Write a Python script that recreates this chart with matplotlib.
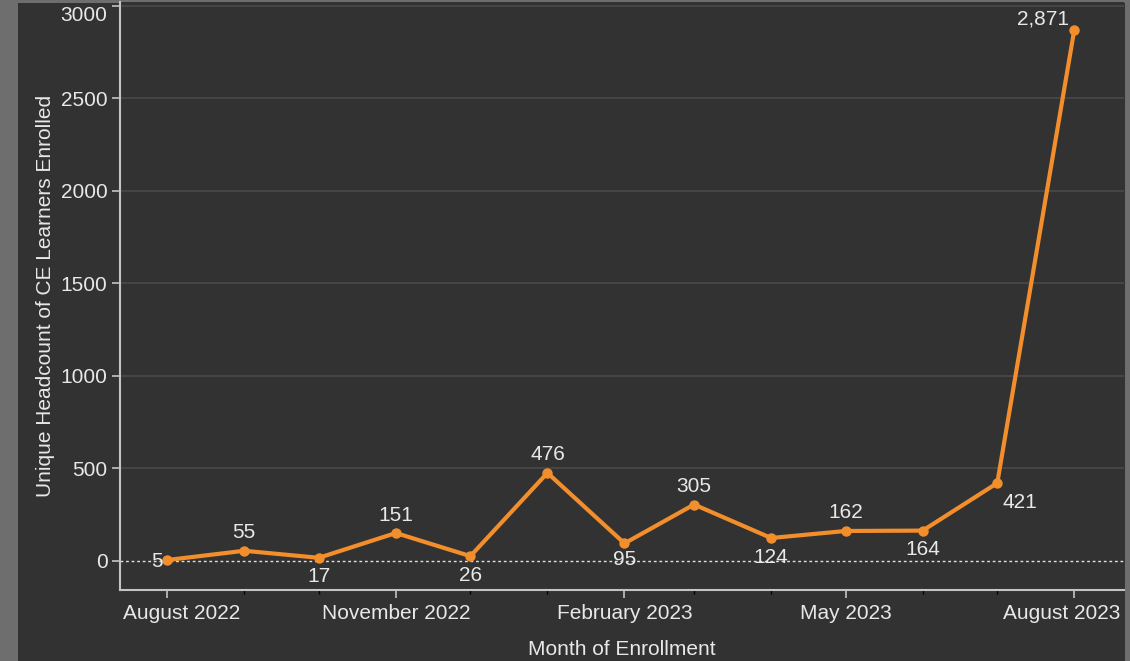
import matplotlib
matplotlib.use("Agg")
import matplotlib.pyplot as plt
import matplotlib.dates as mdates
import matplotlib.transforms as mtransforms
import datetime as dt

months = ["2022-08", "2022-09", "2022-10", "2022-11", "2022-12", "2023-01",
          "2023-02", "2023-03", "2023-04", "2023-05", "2023-06", "2023-07", "2023-08"]
values = [5, 55, 17, 151, 26, 476, 95, 305, 124, 162, 164, 421, 2871]
value_labels = ["5", "55", "17", "151", "26", "476", "95", "305", "124", "162", "164", "421", "2,871"]
# label placement: offsets in pixels (dx, dy), horizontal alignment
label_pos = [(-4, -1, "right"), (0, 18, "center"), (0, -19, "center"), (0, 18, "center"),
             (0, -19, "center"), (0, 18, "center"), (0, -16, "center"), (0, 18, "center"),
             (0, -19, "center"), (0, 18, "center"), (0, -19, "center"), (23, -19, "center"),
             (-5, 11, "right")]
y_ticks = [0, 500, 1000, 1500, 2000, 2500, 3000]
x_label = "Month of Enrollment"
y_label = "Unique Headcount of CE Learners Enrolled"

dates = [dt.datetime.strptime(m, "%Y-%m") for m in months]

plt.rcParams['font.family'] = ['Liberation Sans', 'DejaVu Sans']

BG = "#323232"
TXT = "#e8e8e8"
ORANGE = "#f28e2b"
BORDER = "#6e6e6e"
FS = 15

W, H = 1130, 661
fig = plt.figure(figsize=(W / 100, H / 100), dpi=100)
fig.patch.set_facecolor(BORDER)
fig.add_artist(plt.Rectangle((18 / W, 0), (1125 - 18) / W, 1 - 3 / H,
                             transform=fig.transFigure, facecolor=BG, edgecolor="none", zorder=0))

ax = fig.add_axes([120 / W, 1 - 590 / H, (1124 - 120) / W, (590 - 2) / H])
ax.set_facecolor(BG)

ax.set_ylim(-157, 3021)
ax.set_xlim(dt.datetime(2022, 7, 13), dt.datetime(2023, 8, 21))

for yv in y_ticks[1:]:
    ax.axhline(yv, color="#4a4a4a", lw=1.2, zorder=1)
ax.axhline(0, color="#e0e0e0", lw=1.0, ls=(0, (2, 2)), zorder=2)

ax.plot(dates, values, color=ORANGE, lw=3, marker="o", ms=6.5, zorder=3)

for d, v, lab, (dx, dy, ha) in zip(dates, values, value_labels, label_pos):
    ax.annotate(lab, (d, v), xytext=(dx * 0.72, dy * 0.72), textcoords="offset points",
                ha=ha, va="center", color=TXT, fontsize=FS, zorder=4)

ax.set_yticks(y_ticks)
ax.xaxis.set_major_locator(mdates.MonthLocator(bymonth=[2, 5, 8, 11]))
ax.xaxis.set_major_formatter(mdates.DateFormatter("%B %Y"))
ax.xaxis.set_minor_locator(mdates.MonthLocator())

for s in ["top", "right"]:
    ax.spines[s].set_visible(False)
for s in ["left", "bottom"]:
    ax.spines[s].set_color("#c4c4c4")
    ax.spines[s].set_linewidth(1.5)

ax.tick_params(axis="both", colors="#c4c4c4", labelcolor=TXT, labelsize=FS)
ax.tick_params(axis="y", length=6, width=1.2, pad=3)
ax.tick_params(axis="x", which="major", length=6, width=1.2, pad=4)
ax.tick_params(axis="x", which="minor", length=3, width=1.0)

ax.set_xlabel(x_label, color=TXT, fontsize=FS, labelpad=12)
ax.set_ylabel(y_label, color=TXT, fontsize=FS, labelpad=4)

fig.canvas.draw()
# keep edge labels inside the plot area, like the original
ylabels = ax.get_yticklabels()
ylabels[-1].set_verticalalignment("top")
xlabels = ax.get_xticklabels()
renderer = fig.canvas.get_renderer()
ax_bb = ax.get_window_extent(renderer)
first, last = xlabels[0], xlabels[-1]
bb_first = first.get_window_extent(renderer)
bb_last = last.get_window_extent(renderer)
dx_first = (ax_bb.x0 + 3) - bb_first.x0
dx_last = (ax_bb.x1 - 4) - bb_last.x1
first.set_transform(first.get_transform() + mtransforms.ScaledTranslation(dx_first / 100, 0, fig.dpi_scale_trans))
last.set_transform(last.get_transform() + mtransforms.ScaledTranslation(dx_last / 100, 0, fig.dpi_scale_trans))

fig.savefig("out.png", dpi=100, facecolor=fig.get_facecolor())
